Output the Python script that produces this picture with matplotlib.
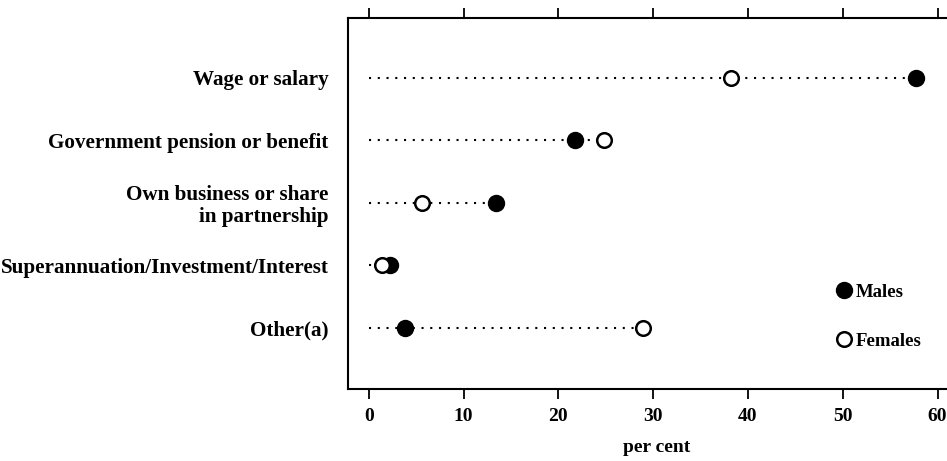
import matplotlib.pyplot as plt

categories = ["Wage or salary",
              "Government pension or benefit",
              "Own business or share\nin partnership",
              "Superannuation/Investment/Interest",
              "Other(a)"]
males = [57.7, 21.8, 13.4, 2.2, 3.8]
females = [38.2, 24.8, 5.6, 1.4, 28.9]
xticks = [0, 10, 20, 30, 40, 50, 60]

plt.rcParams['font.family'] = ['Liberation Serif', 'DejaVu Serif']

fig = plt.figure(figsize=(9.47, 4.61), dpi=100)
# axes runs past the right edge of the picture, as in the scan
ax = fig.add_axes([348 / 947, 72 / 461, 618 / 947, 371 / 461])

rows = list(range(len(categories)))
for r in rows:
    ax.plot([0, max(males[r], females[r])], [r, r], color='black',
            linestyle=(0, (1, 3.2)), linewidth=1.5, zorder=1)

ax.plot(males, rows, linestyle='none', marker='o', markersize=11.5,
        color='black', label='Males', zorder=3)
ax.plot(females, rows, linestyle='none', marker='o', markersize=10.5,
        markerfacecolor='white', markeredgecolor='black',
        markeredgewidth=1.8, label='Females', zorder=3)

ax.set_xlim(-2.2, 63)
ax.set_ylim(4.98, -0.96)
ax.set_yticks(rows)
ax.set_yticklabels(categories, fontsize=15.2, fontweight='bold',
                   linespacing=1.1)
ax.set_xticks(xticks)
ax.set_xticklabels([str(t) for t in xticks], fontsize=14, fontweight='bold')
ax.tick_params(axis='y', length=0, pad=14)
ax.tick_params(axis='x', top=True, direction='out', length=7, width=1.3,
               pad=7)
ax.set_xlabel('per cent', fontsize=14, fontweight='bold', labelpad=10)
for s in ax.spines.values():
    s.set_linewidth(1.5)

ax.legend(loc='upper left', bbox_to_anchor=(0.76, 0.33), frameon=False,
          prop={'size': 13.5, 'weight': 'bold'}, handletextpad=0.15,
          labelspacing=1.7, handlelength=1.0)

plt.savefig('out.png', dpi=100)
